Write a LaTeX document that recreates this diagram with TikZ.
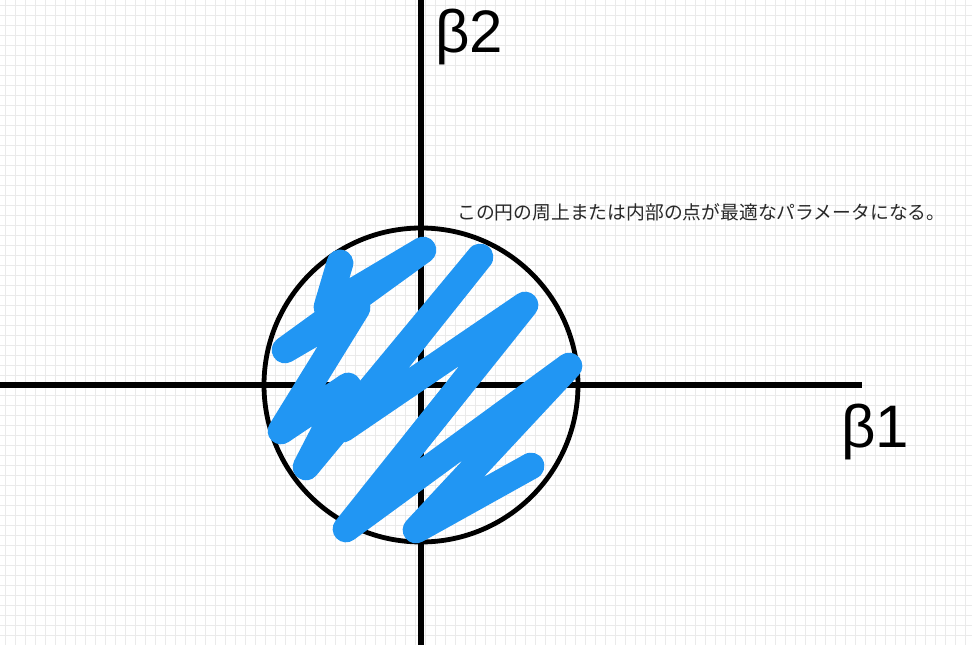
\documentclass[tikz,border=0pt]{standalone}
\usepackage{fontspec}
\setmainfont{Liberation Sans}
\newfontfamily\jpfont{Noto Sans CJK JP}
\definecolor{scribble}{RGB}{33,150,243}
\definecolor{gridc}{RGB}{234,234,234}
\definecolor{textc}{RGB}{40,40,40}
\begin{document}
\begin{tikzpicture}[x=0.75pt,y=-0.75pt,
  axis/.style={line width=3.8pt,black},
  ring/.style={line width=3.6pt,black},
  gridline/.style={gridc,line width=0.5pt},
  blue scribble/.style={line width=20pt,scribble,line cap=round,line join=round},
  beta/.style={font=\fontsize{45}{50}\selectfont,inner sep=0pt,anchor=base west},
  note/.style={font=\jpfont\fontsize{14.1}{16}\selectfont,text=textc,inner sep=0pt,anchor=west}]
\useasboundingbox (0,0) rectangle (972,645);
\fill[white] (0,0) rectangle (972,645);
\foreach \gx in {5,15,...,965} \draw[gridline] (\gx,0) -- (\gx,645);
\foreach \gy in {5,15,...,645} \draw[gridline] (0,\gy) -- (972,\gy);
% axes
\coordinate (o) at (421,385);
\coordinate (xs) at (0,385);
\coordinate (xe) at (862,385);
\coordinate (ys) at (421,0);
\coordinate (ye) at (421,645);
\draw[axis] (xs) -- (xe);
\draw[axis] (ys) -- (ye);
\draw[ring] (o) circle[radius=157];
% scribble
\draw[blue scribble] (340,263) -- (327,307) -- (423,250) -- (285,350) -- (357,308)
  -- (281,431) -- (348,386) -- (306,467) -- (480,257) -- (343,429) -- (525,305)
  -- (346,529) -- (569,366) -- (416,530) -- (531,466);
% labels
\node[beta] (b2) at (435,53) {β2};
\node[beta] (b1) at (841,448) {β1};
\node[note] (txt) at (457,212) {この円の周上または内部の点が最適なパラメータになる。};
\end{tikzpicture}
\end{document}
